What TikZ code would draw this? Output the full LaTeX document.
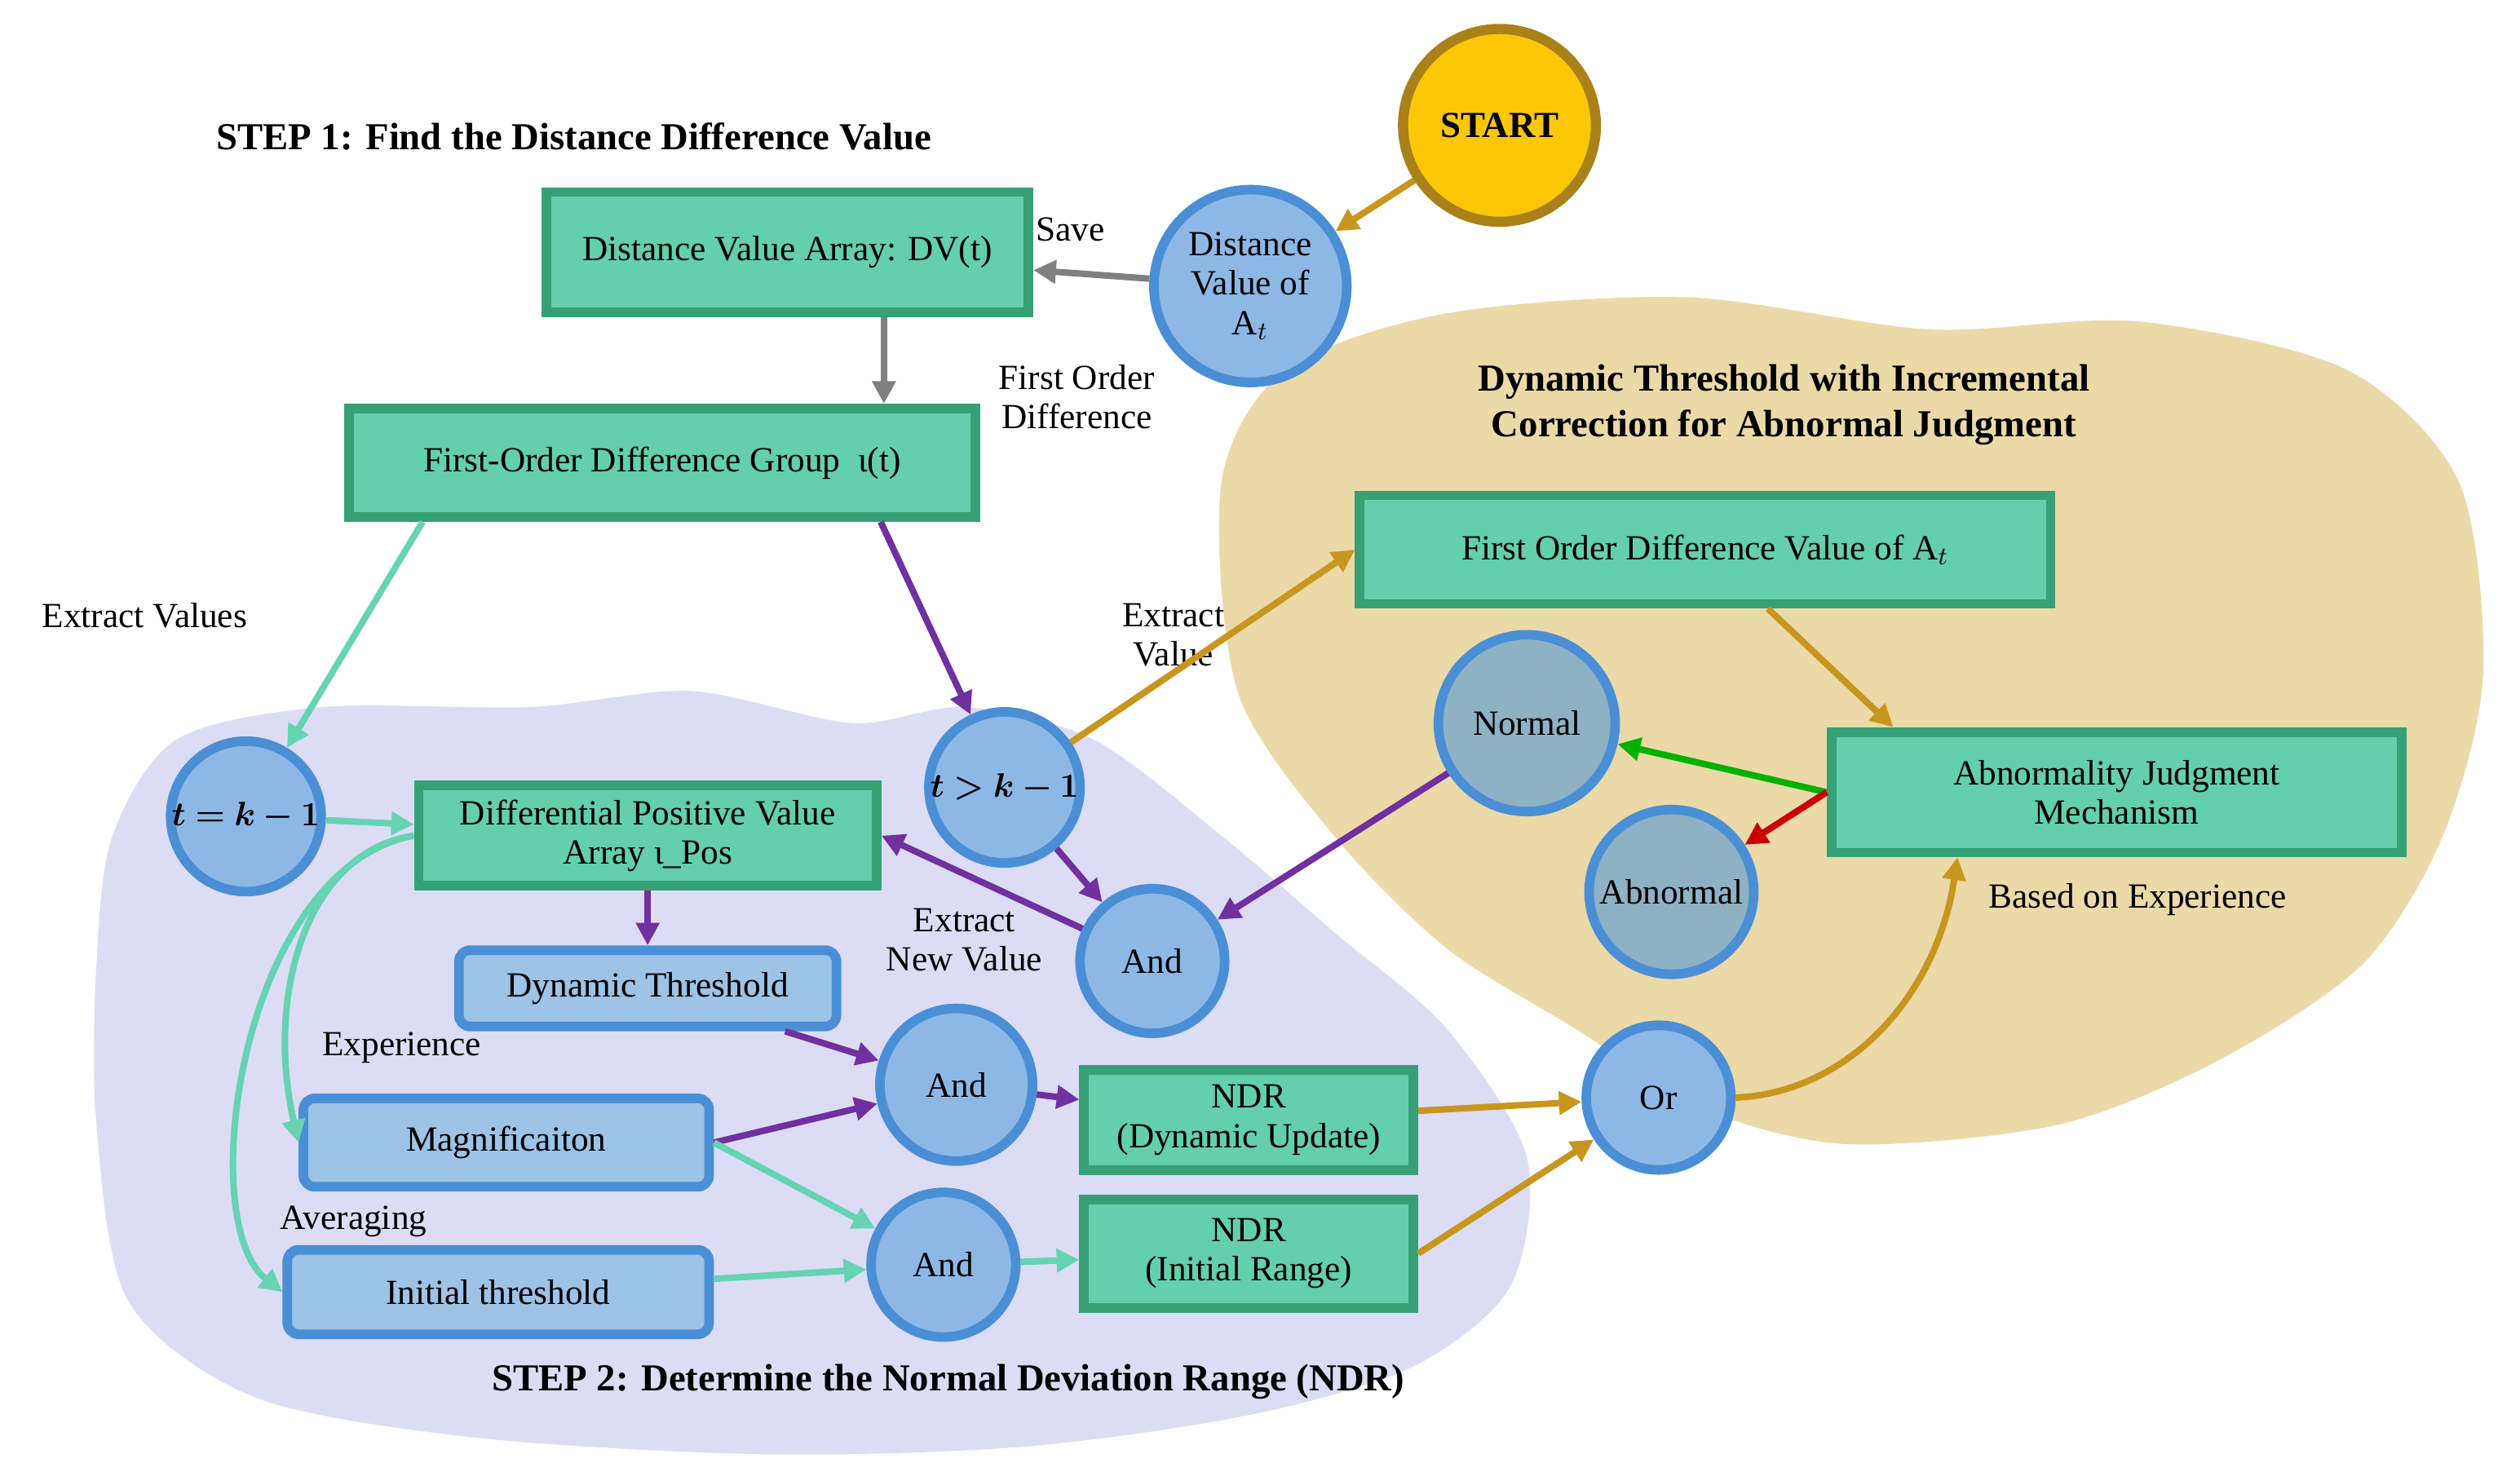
\documentclass[tikz,border=0pt]{standalone}
\usepackage{fontspec}
\usepackage{bm}
\setmainfont{Liberation Serif}
\usetikzlibrary{arrows.meta}
\definecolor{gbox}{HTML}{63CFAC}
\definecolor{gbord}{HTML}{36A077}
\definecolor{bcir}{HTML}{8DB8E6}
\definecolor{bbord}{HTML}{4A8FD6}
\definecolor{bbox}{HTML}{9DC3E6}
\definecolor{gold}{HTML}{C8961E}
\definecolor{purp}{HTML}{7030A0}
\definecolor{teal}{HTML}{66D3B3}
\definecolor{beige}{HTML}{EBD9A8}
\definecolor{lav}{HTML}{DCDDF5}
\definecolor{grayc}{HTML}{8FB1C4}
\tikzset{
 x=0.02cm,y=-0.02cm,
 every node/.style={font=\fontsize{12.5}{14}\selectfont},
 gb/.style={draw=gbord,fill=gbox,line width=3.4pt,align=center,inner sep=2pt},
 bb/.style={draw=bbord,fill=bbox,line width=3.4pt,rounded corners=4pt,align=center},
 bc/.style={circle,draw=bbord,fill=bcir,line width=3.4pt,align=center,inner sep=0pt},
 lab/.style={align=center},
 ttl/.style={font=\fontsize{13.5}{16}\selectfont\bfseries,align=center},
 ar/.style={line width=2.3pt,-{Triangle[length=8pt,width=8pt]}},
}
\begin{document}
\begin{tikzpicture}
\useasboundingbox (0,0) rectangle (1568,918);
\fill[beige] plot[smooth cycle] coordinates {(760,300)(800,230)(900,195)(1050,185)(1200,205)(1330,200)(1460,230)(1530,300)(1545,420)(1520,520)(1470,600)(1380,660)(1280,700)(1150,712)(1060,690)(980,640)(900,590)(830,520)(770,430)};
\fill[lav] plot[smooth cycle] coordinates {(70,520)(110,460)(200,440)(330,440)(430,430)(530,450)(600,440)(680,460)(760,520)(830,580)(900,640)(950,720)(940,800)(880,850)(780,880)(640,900)(480,905)(300,895)(160,870)(80,810)(60,700)(60,600)};

\node[ttl] (t1) at (357,85) {STEP 1: Find the Distance Difference Value};
\node[ttl] (t2) at (1110,252) {Dynamic Threshold with Incremental\\Correction for Abnormal Judgment};
\node[ttl] (t3) at (590,860) {STEP 2: Determine the Normal Deviation Range (NDR)};

\node[circle,draw=gold!85!black,fill=orange!20!yellow!90!orange,fill=yellow!60!orange,line width=3.6pt,minimum size=2.4cm,font=\fontsize{13}{15}\selectfont\bfseries] (start) at (933,78) {START};
\node[gb,minimum width=6cm,minimum height=1.5cm] (dva) at (490,157) {Distance Value Array: DV(t)};
\node[bc,minimum size=2.4cm] (dv) at (778,178) {Distance\\Value of\\A$_t$};
\node[gb,minimum width=7.8cm,minimum height=1.35cm] (fodg) at (412,288) {First-Order Difference Group\ \ ι(t)};
\node[gb,minimum width=8.6cm,minimum height=1.35cm] (fodv) at (1061,342) {First Order Difference Value of A$_t$};
\node[bc,fill=grayc,minimum size=2.2cm] (normal) at (950,450) {Normal};
\node[gb,minimum width=7.1cm,minimum height=1.5cm] (ajm) at (1317,493) {Abnormality Judgment\\Mechanism};
\node[bc,fill=grayc,minimum size=2.05cm] (abn) at (1040,555) {Abnormal};
\node[bc,minimum size=1.8cm] (tk) at (153,508) {$\bm{t=k-1}$};
\node[gb,minimum width=5.7cm,minimum height=1.25cm] (dpva) at (403,520) {Differential Positive Value\\Array ι\_Pos};
\node[bc,minimum size=1.7cm] (tg) at (625,490) {$\bm{t>k-1}$};
\node[bc,minimum size=1.8cm] (and1) at (717,598) {And};
\node[bb,minimum width=4.7cm,minimum height=0.95cm] (dt) at (403,615) {Dynamic Threshold};
\node[bb,minimum width=5.05cm,minimum height=1.1cm] (mag) at (315,711) {Magnificaiton};
\node[bb,minimum width=5.25cm,minimum height=1.05cm] (it) at (310,804) {Initial threshold};
\node[bc,minimum size=1.9cm] (and2) at (595,675) {And};
\node[bc,minimum size=1.8cm] (and3) at (587,787) {And};
\node[gb,minimum width=4.1cm,minimum height=1.25cm] (ndr1) at (777,697) {NDR\\(Dynamic Update)};
\node[gb,minimum width=4.1cm,minimum height=1.35cm] (ndr2) at (777,780) {NDR\\(Initial Range)};
\node[bc,minimum size=1.8cm] (or) at (1032,683) {Or};

\node[lab] (l1) at (666,143) {Save};
\node[lab] (l2) at (670,247) {First Order\\Difference};
\node[lab] (l3) at (90,383) {Extract Values};
\node[lab] (l4) at (730,395) {Extract\\Value};
\node[lab] (l5) at (600,585) {Extract\\New Value};
\node[lab] (l6) at (250,652) {Experience};
\node[lab] (l7) at (220,760) {Averaging};
\node[lab] (l8) at (1330,560) {Based on Experience};

\draw[ar,gold] (start) -- (dv);
\draw[ar,gray] (dv) -- (dva);
\draw[ar,gray] (dva.south -| 550,0) -- (fodg.north -| 550,0);
\draw[ar,teal] (fodg.south -| 263,0) -- (tk);
\draw[ar,purp] (fodg.south -| 548,0) -- (tg);
\draw[ar,gold] (tg) -- (fodv.west);
\draw[ar,purp] (tg) -- (and1);
\draw[ar,purp] (normal) -- (and1);
\draw[ar,purp] (and1) -- (dpva.east);
\draw[ar,teal] (tk) -- (dpva);
\draw[ar,purp] (dpva) -- (dt);
\draw[ar,teal] (dpva.west) .. controls (190,530) and (165,620) .. (mag.west);
\draw[ar,teal] (dpva.west) .. controls (150,540) and (120,760) .. (it.west);
\draw[ar,purp] (dt) -- (and2);
\draw[ar,purp] (mag.east) -- (and2);
\draw[ar,teal] (mag.east) -- (and3);
\draw[ar,teal] (it) -- (and3);
\draw[ar,purp] (and2) -- (ndr1);
\draw[ar,teal] (and3) -- (ndr2);
\draw[ar,gold] (ndr1) -- (or);
\draw[ar,gold] (ndr2.east) -- (or);
\draw[ar,gold] (or.east) .. controls (1150,680) and (1205,620) .. (ajm.south -| 1218,0);
\draw[ar,gold] (fodv.south -| 1100,0) -- (ajm.north -| 1178,0);
\draw[ar,green!70!black] (ajm.west) -- (normal);
\draw[ar,red!80!black] (ajm.west) -- (abn);
\end{tikzpicture}
\end{document}
